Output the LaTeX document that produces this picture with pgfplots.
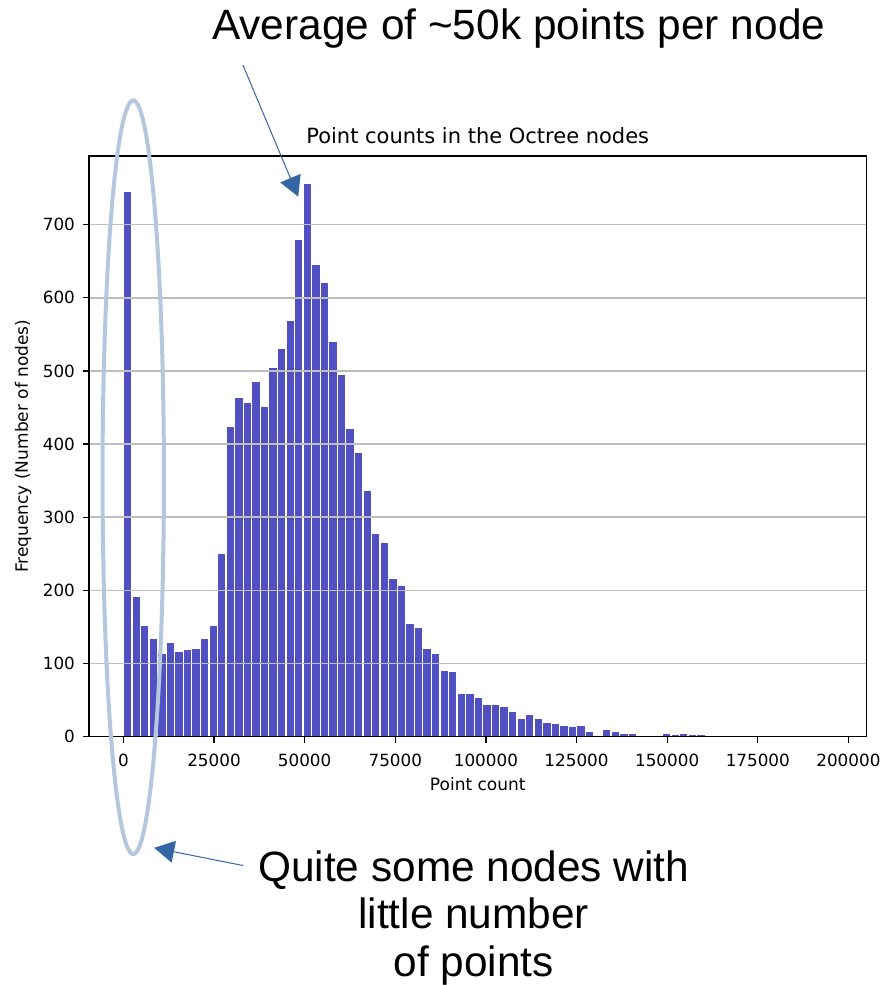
\documentclass[border=0pt]{standalone}
\usepackage{pgfplots}
\pgfplotsset{compat=1.18}
\usepackage{fontspec}
\setmainfont{DejaVu Sans}
\newfontfamily\annfont{Liberation Sans}
\usetikzlibrary{arrows.meta}
\definecolor{barblue}{RGB}{80,80,195}
\definecolor{arrowblue}{RGB}{52,101,164}
\definecolor{ellblue}{RGB}{180,199,220}
\definecolor{gridgray}{RGB}{190,190,190}
\begin{document}
\begin{tikzpicture}
\begin{scope}[x=0.5pt,y=0.5pt]
\useasboundingbox (-89,-248) rectangle (796,737);
\end{scope}
\begin{axis}[
  at={(0,0)}, anchor=south west,
  scale only axis, width=389pt, height=290.5pt,
  xmin=-9500, xmax=205000, ymin=0, ymax=794,
  axis on top,
  xtick={0,25000,...,200000}, ytick={0,100,...,700},
  scaled x ticks=false, scaled y ticks=false,
  /pgf/number format/fixed,
  /pgf/number format/1000 sep={},
  /pgf/number format/assume math mode=true,
  tick label style={font=\fontsize{8.4}{10}\selectfont},
  xticklabel style={yshift=-2pt},
  yticklabel style={xshift=-0.5pt},
  ymajorgrids, major grid style={gridgray, line width=0.8pt},
  tick align=outside, major tick length=3pt,
  tick style={black, line width=0.6pt},
  tick pos=left,
  axis line style={line width=0.8pt},
  title={Point counts in the Octree nodes},
  title style={at={(axis description cs:0.5,1)}, anchor=base, yshift=0pt, font=\fontsize{10.5}{12}\selectfont},
  xlabel={Point count},
  xlabel style={at={([yshift=-27pt]axis description cs:0.5,0)}, anchor=base, font=\fontsize{8.5}{10}\selectfont},
  ylabel={Frequency (Number of nodes)},
  ylabel style={at={([xshift=-30.5pt]axis description cs:0,0.5)}, anchor=base, font=\fontsize{8.5}{10}\selectfont},
]
\addplot[ybar interval, fill=barblue, draw=white, line width=0.6pt] coordinates {
(0,745) (2360,192) (4720,152) (7080,134) (9440,114) (11800,129) (14160,116) (16520,119)
(18880,120) (21240,134) (23600,152) (25960,251) (28320,424) (30680,464) (33040,457)
(35400,486) (37760,451) (40120,505) (42480,531) (44840,569) (47200,680) (49560,756)
(51920,646) (54280,621) (56640,541) (59000,495) (61360,421) (63720,388) (66080,337)
(68440,278) (70800,266) (73160,216) (75520,207) (77880,155) (80240,150) (82600,121)
(84960,114) (87320,90) (89680,89) (92040,59) (94400,59) (96760,54) (99120,44)
(101480,44) (103840,41) (106200,35) (108560,25) (110920,30) (113280,25) (115640,20)
(118000,18) (120360,15) (122720,14) (125080,15) (127440,7) (129800,2) (132160,10)
(134520,7) (136880,5) (139240,5) (141600,0) (143960,1) (146320,0) (148680,5)
(151040,3) (153400,4) (155760,3) (158120,3) (160480,1) (162840,0) (165200,0)
(167560,1) (169920,0) (172280,1) (174640,0) (177000,0) (179360,0) (181720,1)
(184080,0)
};
\end{axis}
\begin{scope}[x=0.5pt,y=0.5pt]
\draw[ellblue, line width=2pt] (44.3,259.5) ellipse [x radius=30.7, y radius=377];
\draw[arrowblue, line width=0.5pt, -{Triangle[length=10pt,width=11pt]}] (154,672) -- (209.3,540.3);
\draw[arrowblue, line width=0.5pt, -{Triangle[length=10pt,width=11pt]}] (154.3,-129) -- (65.3,-111.3);
\node[anchor=base, font=\annfont\fontsize{21.2}{24}\selectfont, inner sep=0pt] at (430,697) {Average of \char`\~50k points per node};
\node[anchor=base, font=\annfont\fontsize{21.2}{24}\selectfont, inner sep=0pt] at (385,-144.7) {Quite some nodes with};
\node[anchor=base, font=\annfont\fontsize{21.2}{24}\selectfont, inner sep=0pt] at (385,-192) {little number};
\node[anchor=base, font=\annfont\fontsize{21.2}{24}\selectfont, inner sep=0pt] at (385,-239.7) {of points};
\end{scope}
\end{tikzpicture}
\end{document}
